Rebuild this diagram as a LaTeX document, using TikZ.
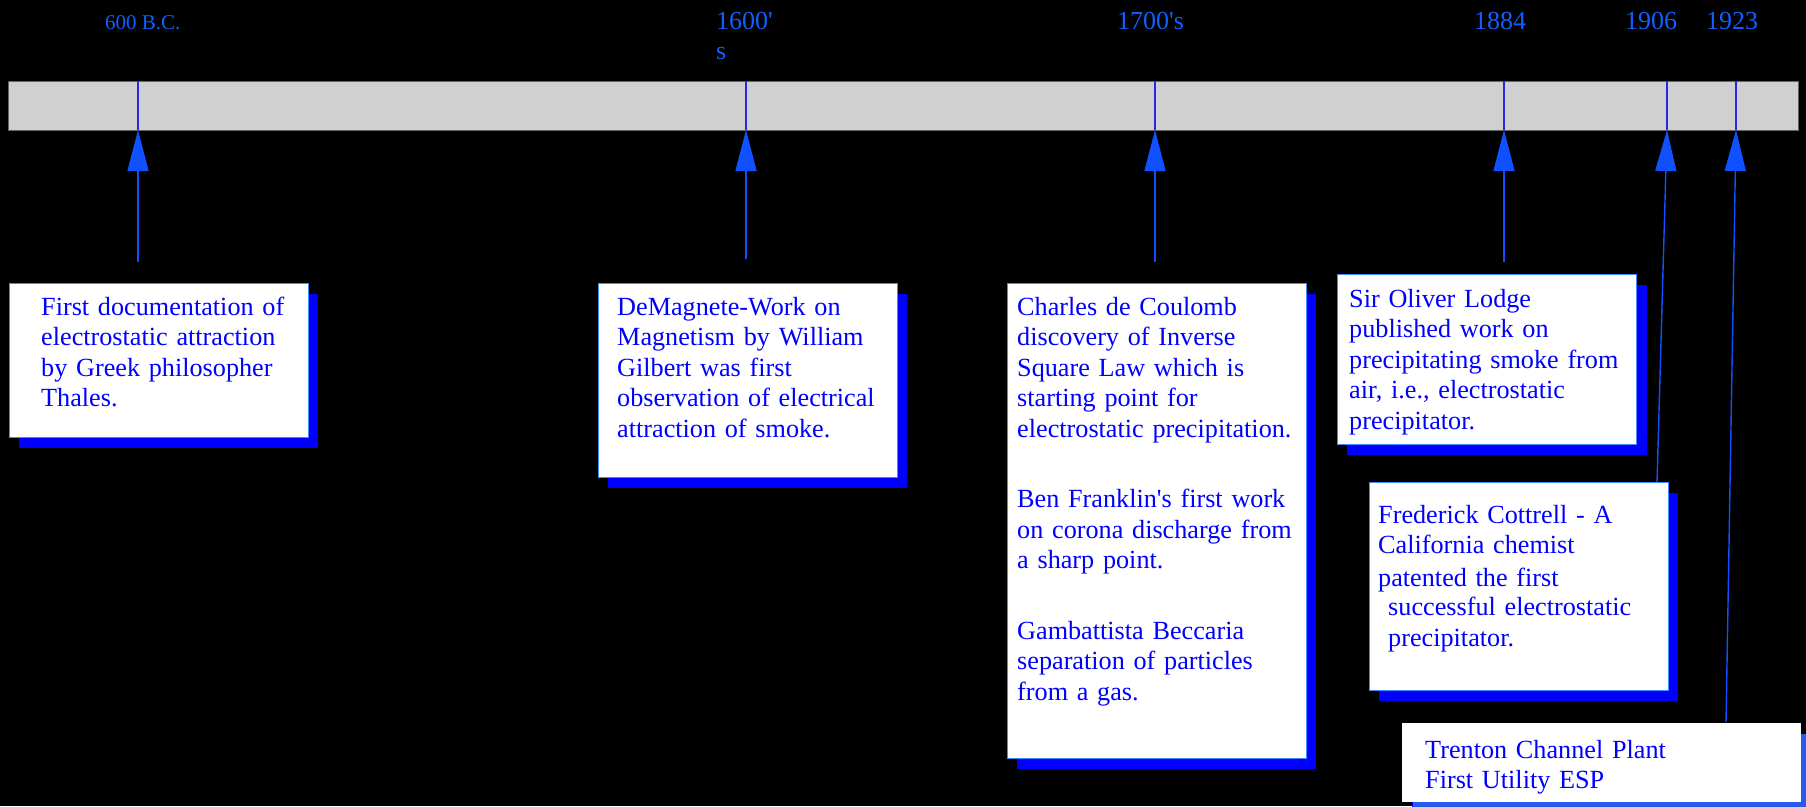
\documentclass[tikz,border=0pt]{standalone}
\usepackage{fontspec}
\setmainfont{Liberation Serif}
\usetikzlibrary{arrows.meta,shadows}
\definecolor{yearblue}{RGB}{16,96,255}
\definecolor{arrowblue}{RGB}{16,80,255}
\definecolor{tickblue}{RGB}{40,40,230}
\definecolor{boxline}{RGB}{60,140,255}
\definecolor{shadowblue}{RGB}{0,0,255}
\definecolor{shadowlight}{RGB}{40,90,240}
\definecolor{textblue}{RGB}{0,0,255}
\definecolor{barfill}{RGB}{208,208,208}
\definecolor{barline}{RGB}{100,100,100}
\begin{document}
\begin{tikzpicture}[x=1pt,y=-1pt,
  year/.style={text=yearblue, font=\fontsize{26}{30}\selectfont, inner sep=0, anchor=base west},
  evbox/.style={draw=boxline, line width=1pt, fill=white, anchor=north west, inner sep=0,
    drop shadow={shadow xshift=9pt, shadow yshift=-10pt, fill=shadowblue, opacity=1}},
  evtext/.style={text=textblue, font=\fontsize{26.2}{30.5}\selectfont, inner sep=0,
    anchor=base west, align=left},
  tickline/.style={draw=tickblue, line width=1.2pt},
  arr/.style={draw=arrowblue, line width=1.4pt, -{Triangle[width=21pt,length=41pt]}},
]
\useasboundingbox (0,0) rectangle (1806,806);
\clip (0,0) rectangle (1806,806);
\fill[black] (0,0) rectangle (1806,806);

% timeline bar
\node[draw=barline, fill=barfill, line width=1pt, inner sep=0, anchor=north west,
  minimum width=1790pt, minimum height=49pt] (bar) at (8,81) {};

% year labels
\node[year, font=\fontsize{21}{25}\selectfont] (y1) at (105,29) {600 B.C.};
\node[year, text width=60pt, align=left] (y2) at (716,29) {1600\textquotesingle\\s};
\node[year] (y3) at (1117,29) {1700\textquotesingle s};
\node[year] (y4) at (1474,29) {1884};
\node[year] (y5) at (1625,29) {1906};
\node[year] (y6) at (1706,29) {1923};

% event boxes
\node[evbox, minimum width=299pt, minimum height=154pt] (b1) at (9,283) {};
\node[evtext, text width=262pt] (x1) at (41,315)
  {First documentation of\\electrostatic attraction\\by Greek philosopher\\Thales.};

\node[evbox, minimum width=299pt, minimum height=194pt] (b2) at (598,283) {};
\node[evtext, text width=276pt] (x2) at (617,315)
  {DeMagnete-Work on\\Magnetism by William\\Gilbert was first\\observation of electrical\\attraction of smoke.};

\node[evbox, minimum width=299pt, minimum height=475pt] (b3) at (1007,283) {};
\node[evtext, text width=286pt] (x3) at (1017,315)
  {Charles de Coulomb\\discovery of Inverse\\Square Law which is\\starting point for\\electrostatic precipitation.\\[40pt]%
   Ben Franklin\textquotesingle s first work\\on corona discharge from\\a sharp point.\\[40pt]%
   Gambattista Beccaria\\separation of particles\\from a gas.};

\node[evbox, minimum width=299pt, minimum height=170pt,
  drop shadow={shadow xshift=10pt, shadow yshift=-10pt, fill=shadowblue, opacity=1}] (b4) at (1337,274) {};
\node[evtext, text width=284pt] (x4) at (1349,307)
  {Sir Oliver Lodge\\published work on\\precipitating smoke from\\air, i.e., electrostatic\\precipitator.};

\node[evbox, minimum width=299pt, minimum height=208pt] (b5) at (1369,482) {};
\node[evtext, text width=286pt] (x5) at (1378,523)
  {Frederick Cottrell - A\\California chemist\\[2.5pt]patented the first\\[-1.5pt]%
   \hspace*{10pt}successful electrostatic\\\hspace*{10pt}precipitator.};

\node[evbox, draw=white, minimum width=398pt, minimum height=78pt,
  drop shadow={shadow xshift=10pt, shadow yshift=-10pt, fill=shadowlight, opacity=1}] (b6) at (1402,723) {};
\node[evtext, text width=360pt] (x6) at (1425,758)
  {Trenton Channel Plant\\First Utility ESP};

% tick positions on the bar and connector ends
\coordinate (t1) at (138,130);
\coordinate (t2) at (746,130);
\coordinate (t3) at (1155,130);
\coordinate (t4) at (1504,130);
\coordinate (t5) at (1667,130);
\coordinate (t6) at (1736,130);
\coordinate (e1) at (138,262);
\coordinate (e2) at (746,259);
\coordinate (e3) at (1155,262);
\coordinate (e4) at (1504,262);
\coordinate (e5) at (1657,482);
\coordinate (e6) at (1726,722);

\foreach \i in {1,...,6} {
  \draw[tickline] (t\i) -- (t\i |- bar.north);
}
\foreach \i in {1,...,6} {
  \draw[arr] (e\i) -- (t\i);
}
\end{tikzpicture}
\end{document}
